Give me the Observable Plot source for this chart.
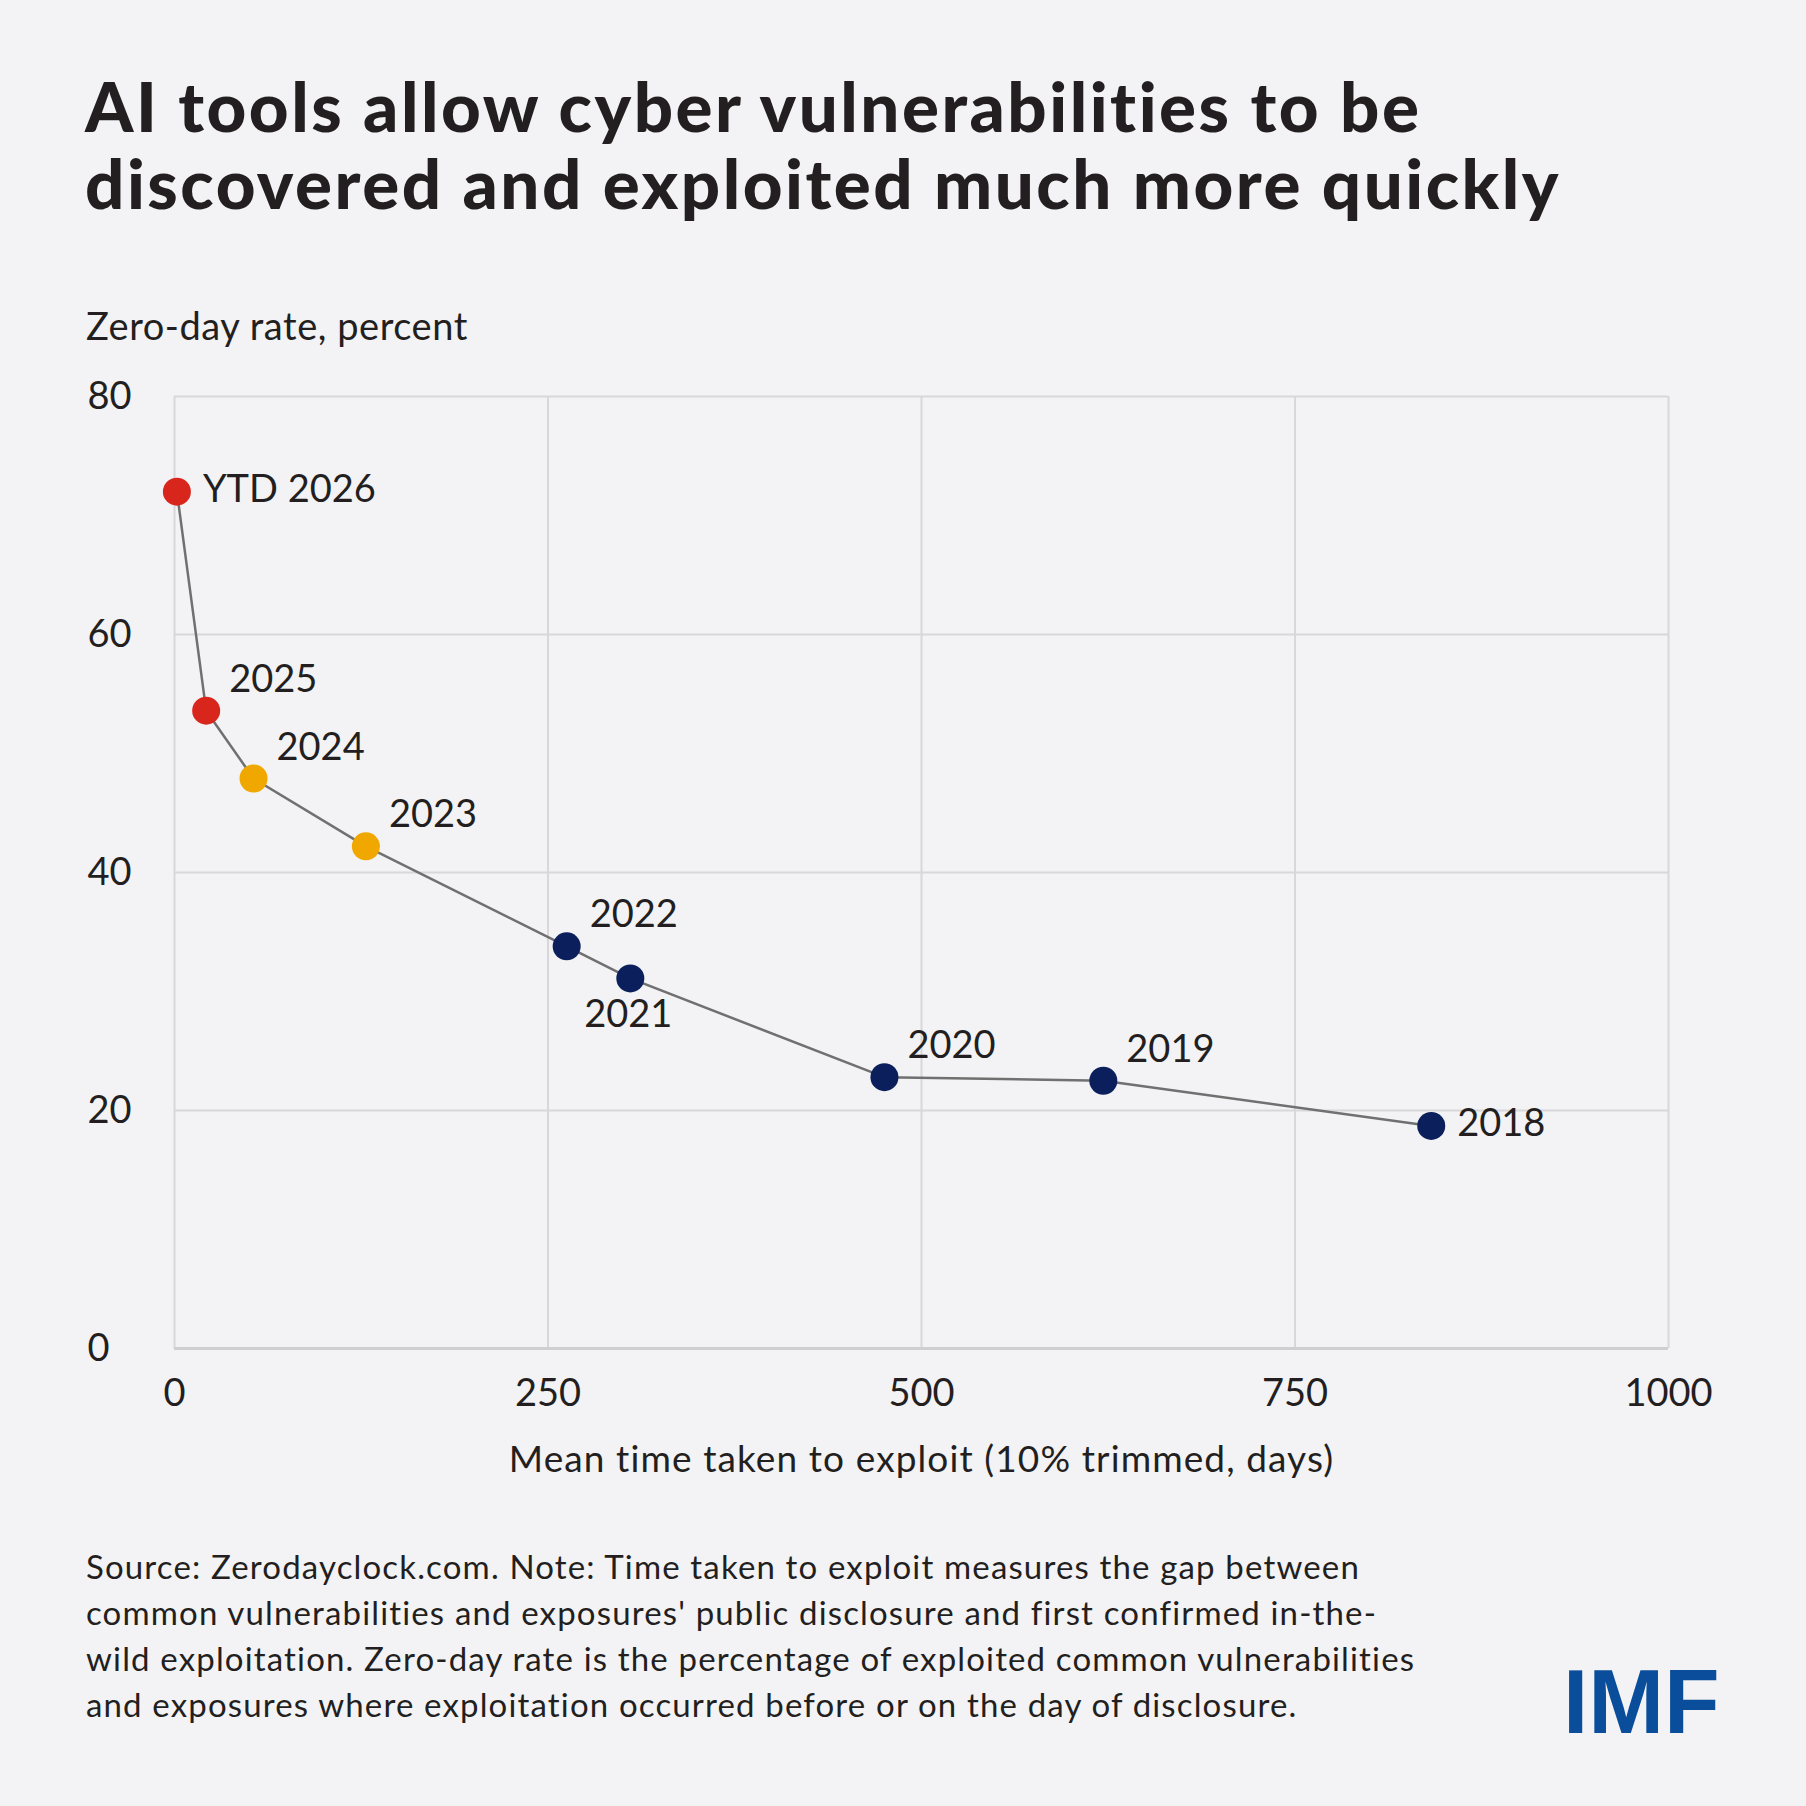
<!DOCTYPE html>
<html>
<head>
<meta charset="utf-8">
<script src="https://cdn.jsdelivr.net/npm/d3@7"></script>
<script src="https://cdn.jsdelivr.net/npm/@observablehq/plot@0.6"></script>
<style>
  html, body { margin: 0; padding: 0; background: #f3f3f5; }
  #page { position: relative; width: 1806px; height: 1806px; background: #f3f3f5; overflow: hidden; color: #231f20; font-family: Lato, "Noto Sans", sans-serif; font-variant-ligatures: none; }
  #title { position: absolute; left: 85px; top: 67px; font-size: 69px; line-height: 77px; font-weight: 900; margin: 0; letter-spacing: 2.5px; white-space: nowrap; }
  #ylabel { position: absolute; left: 86px; top: 306px; font-size: 38px; line-height: 38px; letter-spacing: 0.55px; }
  #chart { position: absolute; left: 0; top: 360px; }
  #source { position: absolute; left: 86px; top: 1543px; font-size: 33px; line-height: 46px; letter-spacing: 1.15px; white-space: nowrap; }
  #logo { position: absolute; left: 1563px; top: 1656px; font-family: "Liberation Sans", Arial, sans-serif; font-weight: 700; font-size: 91px; line-height: 91px; color: #0a4d9a; letter-spacing: 0px; }
</style>
</head>
<body>
<div id="page">
  <div id="title">AI tools allow cyber vulnerabilities to be<br>discovered and exploited much more quickly</div>
  <div id="ylabel">Zero-day rate, percent</div>
  <div id="chart"></div>
  <div id="source">Source: Zerodayclock.com. Note: Time taken to exploit measures the gap between<br>common vulnerabilities and exposures' public disclosure and first confirmed in-the-<br>wild exploitation. Zero-day rate is the percentage of exploited common vulnerabilities<br>and exposures where exploitation occurred before or on the day of disclosure.</div>
  <div id="logo">IMF</div>
</div>
<script>
// ---- data ----
const years = ["YTD 2026", "2025", "2024", "2023", "2022", "2021", "2020", "2019", "2018"];
const meanDays = [1.6, 21.2, 52.9, 128.1, 262.5, 305.1, 475.2, 621.7, 841.2];
const zeroDayRate = [72.0, 53.6, 47.9, 42.2, 33.8, 31.1, 22.8, 22.5, 18.7];
const period = ["2025-26", "2025-26", "2023-24", "2023-24", "2018-22", "2018-22", "2018-22", "2018-22", "2018-22"];
const periodDomain = ["2025-26", "2023-24", "2018-22"];
const xTicks = [0, 250, 500, 750, 1000];
const yTicks = [0, 20, 40, 60, 80];
const xLabel = "Mean time taken to exploit (10% trimmed, days)";

// ---- build table ----
const data = years.map((y, i) => ({year: y, days: meanDays[i], rate: zeroDayRate[i], period: period[i]}));

const rightLabels = new Set(["YTD 2026", "2018"]);
const belowLabels = new Set(["2021"]);
const aboveRight = data.filter(d => !rightLabels.has(d.year) && !belowLabels.has(d.year));
const right = data.filter(d => rightLabels.has(d.year));
const below = data.filter(d => belowLabels.has(d.year));

const ink = "#231f20";
const gridColor = "#d8d8da";

const chart = Plot.plot({
  width: 1806,
  height: 1140,
  marginLeft: 174,
  marginRight: 138,
  marginTop: 36,
  marginBottom: 152,
  style: {background: "transparent", fontFamily: "Lato, 'Noto Sans', sans-serif", fontSize: "38px", color: ink, overflow: "visible"},
  x: {domain: [0, 1000], ticks: xTicks},
  y: {domain: [0, 80], ticks: yTicks},
  color: {type: "ordinal", domain: periodDomain, range: ["#d9261c", "#f0a800", "#0b1f5c"]},
  marks: [
    Plot.gridY(yTicks, {stroke: gridColor, strokeOpacity: 1, strokeWidth: 2}),
    Plot.gridX(xTicks, {stroke: gridColor, strokeOpacity: 1, strokeWidth: 2}),
    Plot.ruleY([0], {stroke: "#cfcfd2", strokeWidth: 3}),
    Plot.axisY(yTicks, {tickSize: 0, tickPadding: 87, textAnchor: "start", label: null, fill: ink, fontSize: 38, tickFormat: d => String(d)}),
    Plot.axisX(xTicks, {tickSize: 0, tickPadding: 31, label: null, fill: ink, fontSize: 38, tickFormat: d => String(d)}),
    Plot.text([xLabel], {text: d => d, frameAnchor: "bottom", dy: 123, fill: ink, fontSize: 37, style: {letterSpacing: "1.1px"}}),
    Plot.line(data, {x: "days", y: "rate", stroke: "#707070", strokeWidth: 2.5}),
    Plot.dot(data, {x: "days", y: "rate", r: 14, fill: "period", stroke: "none"}),
    Plot.text(aboveRight, {x: "days", y: "rate", text: "year", textAnchor: "start", dx: 23, dy: -31, fill: ink, fontSize: 38}),
    Plot.text(right, {x: "days", y: "rate", text: "year", textAnchor: "start", dx: 26, dy: -2, fill: ink, fontSize: 38}),
    Plot.text(below, {x: "days", y: "rate", text: "year", textAnchor: "middle", dx: -2, dy: 36, fill: ink, fontSize: 38})
  ]
});
// letter-spacing for the x-axis title text
chart.querySelectorAll("text").forEach(t => { if (t.textContent === xLabel) t.setAttribute("letter-spacing", "1.1"); });
document.getElementById("chart").appendChild(chart);
</script>
</body>
</html>
